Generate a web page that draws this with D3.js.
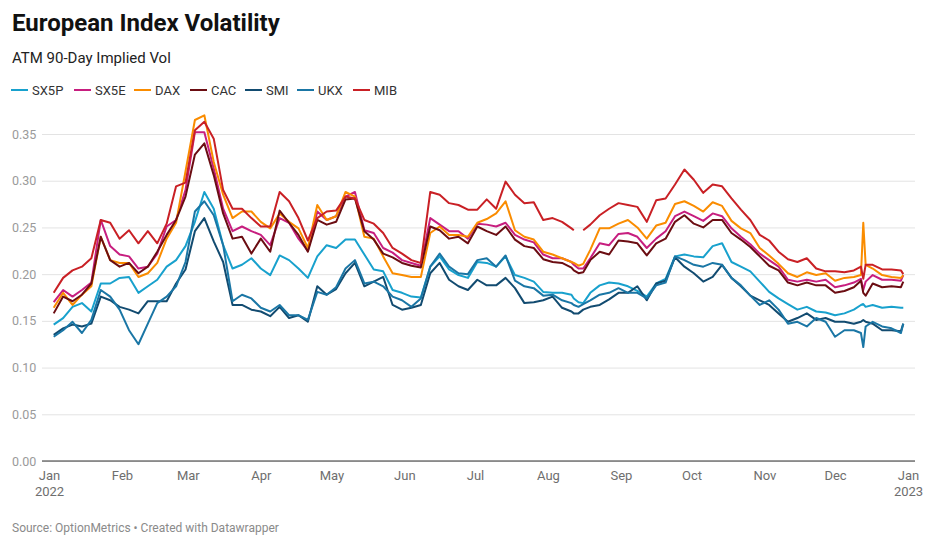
<!DOCTYPE html>
<html><head><meta charset="utf-8">
<script src="https://cdn.jsdelivr.net/npm/d3@7"></script>
<style>
html,body{margin:0;padding:0;background:#fff;}
svg{display:block;font-family:Roboto,"Noto Sans",sans-serif;}
</style></head>
<body><svg id="chart" width="936" height="546"></svg>
<script>
// ---------------- DATA ----------------
const dates = [
"2022-01-03","2022-01-07","2022-01-11","2022-01-15","2022-01-19","2022-01-23","2022-01-27","2022-01-31",
"2022-02-04","2022-02-08","2022-02-12","2022-02-16","2022-02-20","2022-02-24","2022-02-28",
"2022-03-04","2022-03-08","2022-03-12","2022-03-16","2022-03-20","2022-03-24","2022-03-28",
"2022-04-01","2022-04-05","2022-04-09","2022-04-13","2022-04-17","2022-04-21","2022-04-25","2022-04-29",
"2022-05-03","2022-05-07","2022-05-11","2022-05-15","2022-05-19","2022-05-23","2022-05-27","2022-05-31",
"2022-06-04","2022-06-08","2022-06-12","2022-06-16","2022-06-20","2022-06-24","2022-06-28",
"2022-07-02","2022-07-06","2022-07-10","2022-07-14","2022-07-18","2022-07-22","2022-07-26","2022-07-30",
"2022-08-03","2022-08-07","2022-08-11","2022-08-12","2022-08-14","2022-08-16","2022-08-19","2022-08-23","2022-08-27","2022-08-31",
"2022-09-04","2022-09-08","2022-09-12","2022-09-16","2022-09-20","2022-09-24","2022-09-28",
"2022-10-02","2022-10-06","2022-10-10","2022-10-14","2022-10-18","2022-10-22","2022-10-26","2022-10-30",
"2022-11-03","2022-11-07","2022-11-11","2022-11-15","2022-11-19","2022-11-23","2022-11-27",
"2022-12-01","2022-12-05","2022-12-09","2022-12-12","2022-12-13","2022-12-14","2022-12-17","2022-12-21","2022-12-25","2022-12-29","2022-12-30"
];

const sx5p = [
.146,.153,.165,.169,.160,.190,.190,.196,
.197,.180,.187,.194,.208,.215,.230,
.256,.288,.270,.231,.206,.210,.217,
.206,.199,.220,.215,.206,.196,.219,.231,
.228,.237,.237,.221,.205,.203,.183,.180,
.176,.175,.208,.219,.205,.199,.196,
.213,.212,.208,.219,.199,.196,.192,.181,
.180,.180,.178,.174,.170,.169,.180,.188,.191,.190,
.187,.182,.176,.190,.195,.219,.221,
.219,.218,.230,.233,.213,.208,.203,.192,
.181,.174,.168,.162,.165,.160,.159,
.156,.158,.162,.167,.168,.165,.167,.164,.165,.164,.164
];
const sx5e = [
.170,.183,.176,.183,.191,.258,.230,.221,
.219,.206,.208,.222,.251,.258,.290,
.352,.352,.313,.270,.246,.251,.246,
.242,.231,.260,.255,.238,.225,.267,.258,
.262,.283,.288,.247,.244,.228,.223,.215,
.212,.209,.260,.253,.246,.246,.238,
.254,.253,.251,.255,.242,.237,.234,.221,
.217,.217,.213,.210,.206,.206,.217,.233,.231,.243,
.244,.240,.228,.238,.246,.262,.267,
.262,.257,.265,.262,.249,.240,.232,.222,
.215,.208,.194,.192,.194,.192,.194,
.186,.188,.191,.195,.183,.192,.199,.194,.194,.193,.199
];
const dax = [
.164,.180,.167,.178,.187,.240,.215,.212,
.212,.197,.201,.212,.238,.255,.310,
.365,.370,.320,.285,.260,.267,.267,
.256,.249,.265,.256,.249,.228,.274,.258,
.262,.288,.283,.240,.238,.219,.201,.199,
.197,.197,.244,.251,.242,.242,.240,
.255,.259,.265,.278,.247,.240,.237,.224,
.221,.217,.213,.212,.209,.211,.226,.249,.249,.254,
.258,.250,.238,.252,.255,.275,.278,
.273,.267,.277,.273,.257,.249,.244,.228,
.220,.211,.201,.197,.202,.199,.201,
.193,.196,.197,.199,.255,.210,.206,.199,.197,.196,.199
];
const cac = [
.158,.176,.171,.178,.190,.240,.215,.208,
.212,.201,.208,.224,.242,.258,.283,
.328,.340,.306,.265,.238,.240,.222,
.238,.224,.268,.255,.242,.224,.258,.253,
.256,.280,.281,.246,.237,.222,.218,.212,
.209,.207,.251,.247,.238,.240,.233,
.251,.246,.242,.251,.237,.230,.228,.216,
.213,.212,.207,.204,.201,.202,.215,.224,.221,.236,
.235,.233,.220,.233,.238,.256,.263,
.254,.250,.258,.258,.244,.237,.229,.219,
.209,.204,.191,.188,.191,.188,.188,
.180,.182,.186,.193,.180,.177,.190,.186,.187,.186,.192
];
const smi = [
.135,.142,.146,.144,.147,.176,.172,.165,
.162,.158,.171,.171,.171,.190,.205,
.246,.260,.235,.213,.167,.167,.162,
.160,.155,.165,.153,.156,.149,.187,.178,
.184,.201,.212,.187,.192,.197,.167,.162,
.164,.167,.201,.212,.194,.187,.183,
.194,.188,.188,.196,.185,.169,.170,.172,
.176,.164,.160,.158,.158,.162,.165,.167,.173,.180,
.180,.187,.172,.190,.193,.218,.208,
.201,.192,.197,.210,.196,.187,.177,.172,
.167,.158,.149,.153,.158,.151,.153,
.149,.149,.147,.149,.151,.149,.147,.140,.140,.139,.147
];
const ukx = [
.133,.140,.149,.137,.151,.183,.176,.162,
.140,.125,.147,.169,.176,.187,.213,
.267,.278,.263,.231,.171,.178,.174,
.164,.160,.167,.156,.156,.151,.181,.178,
.186,.206,.215,.190,.192,.187,.176,.172,
.165,.174,.208,.222,.208,.201,.200,
.215,.217,.208,.220,.193,.187,.185,.177,
.178,.172,.169,.167,.165,.168,.172,.178,.180,.185,
.180,.180,.174,.188,.191,.219,.215,
.210,.208,.212,.210,.196,.188,.177,.167,
.172,.162,.147,.149,.144,.153,.149,
.133,.140,.140,.137,.122,.144,.149,.144,.142,.137,.147
];
const mib = [
.180,.196,.204,.208,.217,.258,.255,.238,
.247,.233,.246,.233,.254,.294,.298,
.354,.363,.345,.290,.270,.270,.260,
.251,.251,.288,.278,.260,.236,.260,.267,
.268,.283,.281,.258,.254,.244,.228,.222,
.215,.212,.288,.285,.276,.274,.269,
.269,.280,.270,.299,.285,.276,.277,.258,
.260,.256,.249,.247,null,.247,.253,.263,.270,.276,
.274,.272,.256,.279,.281,.296,.312,
.301,.287,.296,.294,.281,.269,.258,.242,
.236,.224,.216,.213,.217,.206,.203,
.203,.202,.204,.208,.195,.210,.210,.205,.205,.204,.200
];

const seriesNames = ["SX5P","SX5E","DAX","CAC","SMI","UKX","MIB"];
const seriesValues = [sx5p, sx5e, dax, cac, smi, ukx, mib];
const yTicks = [0, 0.05, 0.10, 0.15, 0.20, 0.25, 0.30, 0.35];
const monthTicks = ["2022-01-01","2022-02-01","2022-03-01","2022-04-01","2022-05-01","2022-06-01",
  "2022-07-01","2022-08-01","2022-09-01","2022-10-01","2022-11-01","2022-12-01","2023-01-01"];
const monthNames = ["Jan","Feb","Mar","Apr","May","Jun","Jul","Aug","Sep","Oct","Nov","Dec"];

// ---------------- STYLE ----------------
const colors = ["#18a1cd","#c71e7f","#fa8c00","#6b0d12","#124b70","#1a76a5","#c92025"];
const legendTextX = [32, 95, 155, 211, 266, 318, 374];

// ---------------- CHART ----------------
const svg = d3.select("#chart");
const parse = d3.utcParse("%Y-%m-%d");
const plotLeft = 42, plotRight = 915;
const x = d3.scaleUtc().domain([parse("2022-01-01"), parse("2023-01-01")]).range([49, 908]);
const y = d3.scaleLinear().domain([0, 0.35]).range([461, 134]);

// Title etc
svg.append("text").attr("x", 12).attr("y", 31).attr("font-size", 24).attr("font-weight", 700)
  .attr("fill", "#111").text("European Index Volatility");
svg.append("text").attr("x", 12).attr("y", 63).attr("font-size", 15)
  .attr("fill", "#222").text("ATM 90-Day Implied Vol");

// Legend
const leg = svg.append("g");
seriesNames.forEach((name, i) => {
  const tx = legendTextX[i];
  leg.append("line").attr("x1", tx - 21).attr("x2", tx - 4).attr("y1", 90).attr("y2", 90)
    .attr("stroke", colors[i]).attr("stroke-width", 2);
  leg.append("text").attr("x", tx).attr("y", 90).attr("dy", "0.35em").attr("font-size", 13)
    .attr("fill", "#333").text(name);
});

// Y axis with gridlines
const yAxis = d3.axisLeft(y).tickValues(yTicks).tickSize(-(plotRight - plotLeft))
  .tickPadding(6).tickFormat(d3.format(".2f"));
const gy = svg.append("g").attr("transform", `translate(${plotLeft},0)`).call(yAxis);
gy.select(".domain").remove();
gy.selectAll(".tick line").attr("stroke", "#e3e3e3").attr("stroke-width", 1);
gy.selectAll(".tick text").attr("fill", "#9a9a9a").attr("font-size", 12.5)
  .attr("font-family", "Roboto, sans-serif").attr("text-anchor", "start").attr("x", 12 - plotLeft);

// Zero baseline
svg.append("line").attr("x1", plotLeft).attr("x2", plotRight).attr("y1", y(0)).attr("y2", y(0))
  .attr("stroke", "#333").attr("stroke-width", 1);

// X axis
const monthDates = monthTicks.map(parse);
const xAxis = d3.axisBottom(x).tickValues(monthDates).tickSize(0).tickPadding(10)
  .tickFormat(d => monthNames[d.getUTCMonth()]);
const gx = svg.append("g").attr("transform", `translate(0,${y(0)})`).call(xAxis);
gx.select(".domain").remove();
gx.selectAll(".tick text").attr("fill", "#6e6e6e").attr("font-size", 13)
  .attr("font-family", "Roboto, sans-serif")
  .each(function(d) {
    if (d.getUTCMonth() === 0) {
      const t = d3.select(this);
      t.text(null);
      t.append("tspan").attr("x", 0).text("Jan");
      t.append("tspan").attr("x", 0).attr("dy", "1.2em").text(d.getUTCFullYear());
    }
  });

// Lines
const line = d3.line()
  .defined(d => d.v !== null)
  .x(d => x(d.date))
  .y(d => y(d.v));
const gl = svg.append("g");
seriesNames.forEach((name, i) => {
  const data = dates.map((ds, j) => ({date: parse(ds), v: seriesValues[i][j]}));
  gl.append("path").datum(data).attr("d", line)
    .attr("fill", "none").attr("stroke", colors[i]).attr("stroke-width", 2)
    .attr("stroke-linejoin", "round").attr("stroke-linecap", "butt");
});

// Source
svg.append("text").attr("x", 12).attr("y", 532).attr("font-size", 12).attr("fill", "#8a8a8a")
  .text("Source: OptionMetrics \u2022 Created with Datawrapper");
</script>
</body></html>
